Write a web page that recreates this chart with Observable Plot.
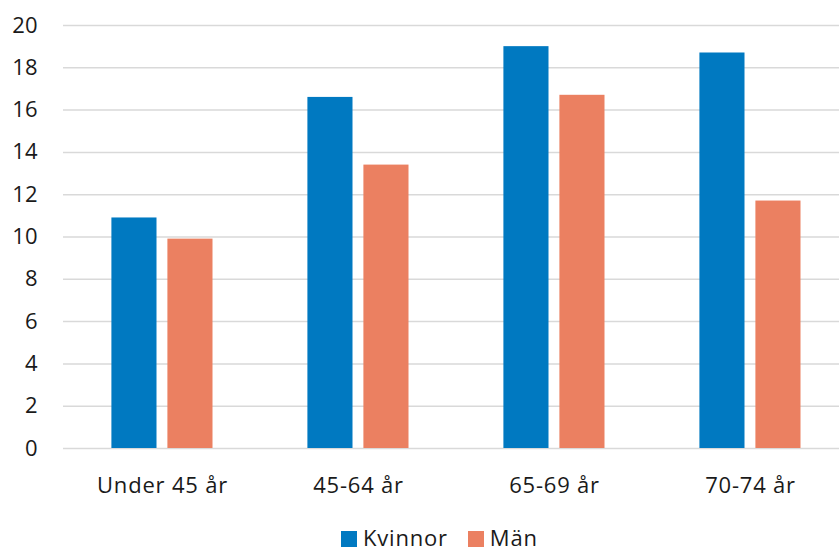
<!DOCTYPE html>
<html>
<head>
<meta charset="utf-8">
<script src="https://cdn.jsdelivr.net/npm/d3@7"></script>
<script src="https://cdn.jsdelivr.net/npm/@observablehq/plot@0.6"></script>
<style>
  html, body { margin: 0; padding: 0; background: #fff; overflow: hidden; }
  #wrap { position: relative; width: 839px; height: 547px; font-family: "Open Sans", sans-serif; overflow: hidden; }
  #legend { position: absolute; left: 341px; top: 526px; display: flex; align-items: center; font-size: 22px; line-height: 22px; letter-spacing: 0.8px; color: #1a1a1a; }
  #legend .sw { display: inline-block; width: 16px; height: 16px; margin-right: 6px; position: relative; top: 2px; }
  #legend .item { display: flex; align-items: center; margin-right: 20px; }
  #chart svg g[aria-label="x-axis tick label"] text { letter-spacing: 0.8px; }
</style>
</head>
<body>
<div id="wrap"><div id="chart"></div><div id="legend"></div></div>
<script>
const groups = ["Under 45 år", "45-64 år", "65-69 år", "70-74 år"];
const seriesNames = ["Kvinnor", "Män"];
const kvinnor = [10.9, 16.6, 19.0, 18.7];
const man = [9.9, 13.4, 16.7, 11.7];
const yTicks = [0, 2, 4, 6, 8, 10, 12, 14, 16, 18, 20];
const colors = ["#0079c1", "#eb8061"];

const dataK = groups.map((g, i) => ({group: g, value: kvinnor[i]}));
const dataM = groups.map((g, i) => ({group: g, value: man[i]}));

const chart = Plot.plot({
  width: 839,
  height: 510,
  marginLeft: 63,
  marginRight: 0,
  marginTop: 25,
  marginBottom: 62,
  style: {fontFamily: "Open Sans, sans-serif", fontSize: "22px", color: "#1a1a1a", background: "#fff"},
  x: {domain: groups, range: [63.3, 849.5], padding: 0, label: null, tickSize: 0, tickPadding: 29},
  y: {domain: [0, 20], ticks: yTicks, label: null, tickSize: 0, tickPadding: 26},
  marks: [
    Plot.ruleY(yTicks, {stroke: "#d9d9d9", strokeWidth: 1.5}),
    Plot.barY(dataK, {x: "group", y: "value", fill: colors[0], insetLeft: 47.4, insetRight: 103.5}),
    Plot.barY(dataM, {x: "group", y: "value", fill: colors[1], insetLeft: 103.4, insetRight: 47.5})
  ]
});
document.getElementById("chart").appendChild(chart);

const legend = document.getElementById("legend");
seriesNames.forEach((name, i) => {
  const item = document.createElement("div");
  item.className = "item";
  const sw = document.createElement("span");
  sw.className = "sw";
  sw.style.background = colors[i];
  const t = document.createElement("span");
  t.textContent = name;
  item.appendChild(sw);
  item.appendChild(t);
  legend.appendChild(item);
});
</script>
</body>
</html>
